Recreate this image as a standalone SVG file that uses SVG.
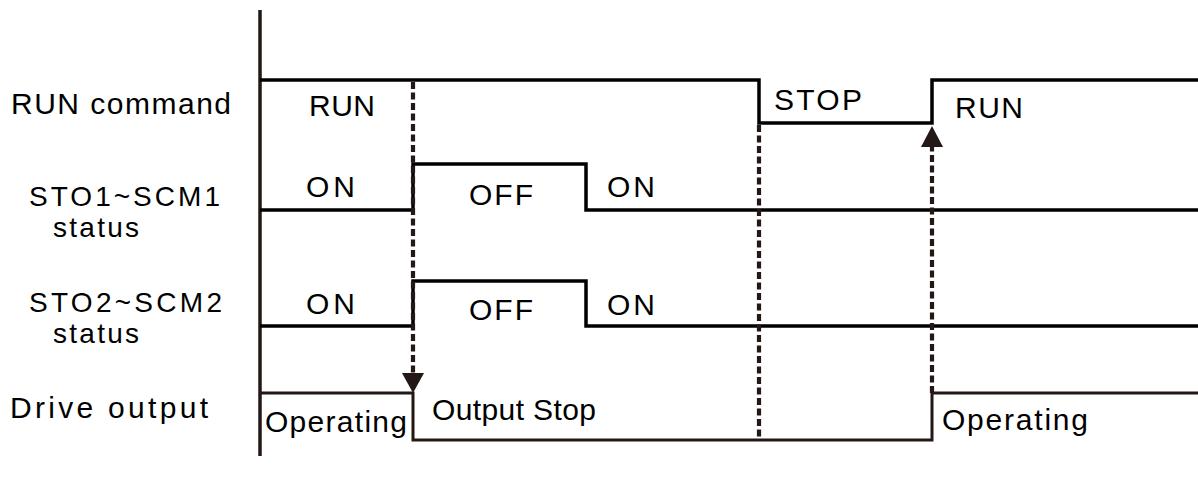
<svg xmlns="http://www.w3.org/2000/svg" width="1198" height="477" viewBox="0 0 1198 477">
<style>
text{font-family:"Liberation Sans",Arial,sans-serif;font-size:30px;fill:#000}
text.two{font-size:28px}
.sig{fill:none;stroke:#000;stroke-width:3.5}
.drv{fill:none;stroke:#231815;stroke-width:3}
.axis{fill:none;stroke:#231815;stroke-width:3.5}
.dash{fill:none;stroke:#231815;stroke-width:4.2;stroke-dasharray:7 3.5}
.ah{fill:#231815}
</style>
<rect width="1198" height="477" fill="#fff"/>
<g id="axis"><line class="axis" x1="260" y1="10" x2="260" y2="456"/></g>
<g id="labels">
<text x="11" y="114" textLength="220" lengthAdjust="spacing">RUN command</text>
<text class="two" x="29" y="206" textLength="191" lengthAdjust="spacing">STO1~SCM1</text>
<text class="two" x="53" y="237" textLength="86" lengthAdjust="spacing">status</text>
<text class="two" x="29" y="312" textLength="193" lengthAdjust="spacing">STO2~SCM2</text>
<text class="two" x="53" y="343" textLength="86" lengthAdjust="spacing">status</text>
<text x="10" y="418" textLength="198" lengthAdjust="spacing">Drive output</text>
</g>
<g id="run-command">
<path class="sig" d="M260,80 H759 V123 H932 V80 H1198"/>
<text x="309" y="116" textLength="66" lengthAdjust="spacing">RUN</text>
<text x="774" y="110" textLength="88" lengthAdjust="spacing">STOP</text>
<text x="955" y="118" textLength="68" lengthAdjust="spacing">RUN</text>
</g>
<g id="sto1">
<path class="sig" d="M260,210 H413 V164 H586 V210 H1198"/>
<text x="306" y="197" textLength="49" lengthAdjust="spacing">ON</text>
<text x="469" y="205" textLength="64" lengthAdjust="spacing">OFF</text>
<text x="607" y="197" textLength="48" lengthAdjust="spacing">ON</text>
</g>
<g id="sto2">
<path class="sig" d="M260,326 H413 V281 H586 V326 H1198"/>
<text x="306" y="314" textLength="49" lengthAdjust="spacing">ON</text>
<text x="469" y="320" textLength="64" lengthAdjust="spacing">OFF</text>
<text x="607" y="315" textLength="48" lengthAdjust="spacing">ON</text>
</g>
<g id="drive-output">
<path class="drv" d="M260,393 H413 V440 H932 V393 H1198"/>
<text x="265" y="432" textLength="142" lengthAdjust="spacing">Operating</text>
<text x="432" y="420" textLength="164" lengthAdjust="spacing">Output Stop</text>
<text x="942" y="430" textLength="146" lengthAdjust="spacing">Operating</text>
</g>
<g id="connectors">
<line class="dash" x1="413" y1="82" x2="413" y2="374"/>
<polygon class="ah" points="402,373 424,373 413,393"/>
<line class="dash" x1="759" y1="125" x2="759" y2="440"/>
<line class="dash" x1="932" y1="393" x2="932" y2="146"/>
<polygon class="ah" points="921,147 943,147 932,126"/>
</g>
</svg>
